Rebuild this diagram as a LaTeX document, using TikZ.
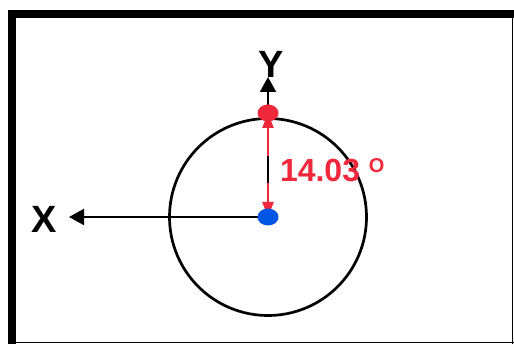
\documentclass[tikz,border=0pt]{standalone}
\usepackage{fontspec}
\setmainfont{Liberation Sans}
\usetikzlibrary{arrows.meta, positioning, shapes.geometric}
\definecolor{cblue}{HTML}{0057E6}
\definecolor{cred}{HTML}{F0283C}
\definecolor{cframe}{HTML}{000000}
\tikzset{
  every picture/.style={font=\bfseries, line width=2pt},
  dot/.style={ellipse, fill=#1, draw=none, minimum width=21pt, minimum height=17pt, inner sep=0pt},
  dot/.default=cblue,
  axis/.style={-{Triangle[length=15pt, width=16pt]}, draw=black, line width=2pt},
  radius arrow/.style={-{Triangle[length=15pt, width=11pt]}, draw=cred, line width=2.5pt},
  ring/.style={draw=black, line width=2.7pt},
  axislabel/.style={font=\fontsize{38}{38}\selectfont\bfseries, inner sep=0pt, anchor=base},
  anglabel/.style={font=\fontsize{32}{32}\selectfont\bfseries, text=cred, inner sep=0pt, anchor=base west},
}

\begin{document}
\begin{tikzpicture}[x=1pt, y=-1pt]
  \useasboundingbox (0,0) rectangle (514,344);
  % frame
  \fill[cframe] (8,10) rectangle (514,18.3);
  \fill[cframe] (8,10) rectangle (16,344);
  \draw[cframe, line width=1.3pt] (512.6,18) -- (512.6,344);
  \draw[cframe, line width=1.4pt] (16,342.3) -- (514,342.3);
  % circle and axes
  \coordinate (ctrpos) at (268,217);
  \draw[ring] (ctrpos) circle[radius=98.5pt];
  \coordinate (ytip) at (268,77);
  \coordinate (xtip) at (69,217);
  \draw[axis] (ctrpos) -- (ytip);
  \draw[axis] (ctrpos) -- (xtip);
  \node[axislabel] (ylab) at (271,77.5) {Y};
  \node[axislabel] (xlab) at (44,233) {X};
  % radius arrow, split round the label
  \coordinate (upper) at (268,156);
  \coordinate (lower) at (268,183);
  \draw[radius arrow] (upper) -- (268,113);
  \draw[radius arrow] (lower) -- (ctrpos);
  \node[dot=cred] (top) at (268,113) {};
  \node[dot=cblue] (ctr) at (ctrpos) {};
  \node[anglabel] (ang) at (279,182) {14.03 \raisebox{9pt}{\fontsize{20}{20}\selectfont O}};
\end{tikzpicture}
\end{document}
